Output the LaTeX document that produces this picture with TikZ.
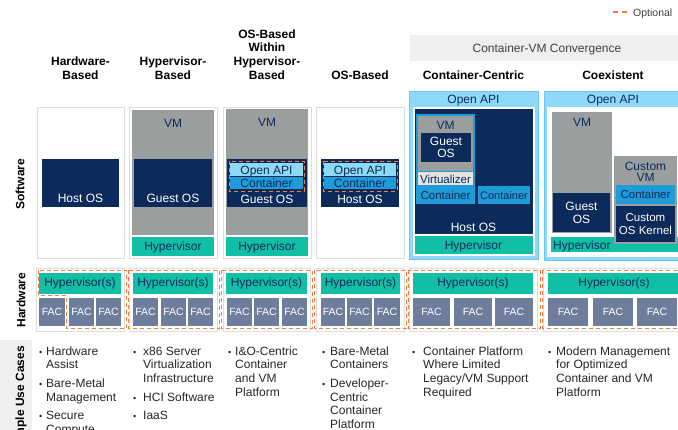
\documentclass[tikz,border=0pt]{standalone}
\usepackage{fontspec}
\setmainfont{Liberation Sans}
\usepackage{xcolor}
\usepackage{tikz}
\usetikzlibrary{positioning}

\definecolor{navy}{HTML}{0C2B5A}
\definecolor{vmgray}{HTML}{9A9E9F}
\definecolor{hvteal}{HTML}{12BFA6}
\definecolor{apiblue}{HTML}{8ED8F8}
\definecolor{ctrblue}{HTML}{1F9BD7}
\definecolor{facgray}{HTML}{6F7D9C}
\definecolor{bordergray}{HTML}{DDDDDD}
\definecolor{bandgray}{HTML}{EFEFEF}
\definecolor{virtgray}{HTML}{E4E4E4}
\definecolor{optorange}{HTML}{FF7A3D}

\newcommand{\bul}{{\fontsize{9}{9}\selectfont\textbullet}}

\begin{document}
\begin{tikzpicture}[
    x=1pt, y=-1pt,
    txt/.style={inner sep=0pt, text height=9pt, text depth=1pt, text=navy, font=\fontsize{12}{13.7}\selectfont},
    wtxt/.style={txt, text=white},
    stack/.style={inner sep=0pt, align=center, text=navy, font=\fontsize{12}{11.5}\selectfont},
    hdr/.style={inner sep=0pt, align=center, anchor=south, font=\bfseries\fontsize{12}{13.7}\selectfont},
    side/.style={inner sep=0pt, rotate=90, font=\bfseries\fontsize{12}{14}\selectfont},
    colbox/.style={draw=bordergray, fill=white, line width=1pt},
    apibox/.style={fill=apiblue, draw=apiblue!70!ctrblue, line width=1pt},
    hyps/.style={fill=hvteal, minimum height=21pt, inner sep=0pt, text=navy, font=\fontsize{12}{13.7}\selectfont},
    fac/.style={fill=facgray, minimum height=28pt, inner sep=0pt, text=white, font=\fontsize{10.5}{12}\selectfont},
    opt/.style={draw=optorange, line width=1pt, dash pattern=on 4pt off 3pt},
    uses/.style={inner sep=0pt, anchor=base west, text=black!85, font=\fontsize{12}{13.7}\selectfont}
]
    \useasboundingbox (0,0) rectangle (678,429);

    % Legend
    \draw[opt, line width=1.3pt, dash pattern=on 5pt off 3.5pt] (613,12) -- (628,12);
    \node[txt, anchor=west, text=black!75, font=\fontsize{10.5}{12}\selectfont] (optional) at (633,12) {Optional};

    % Column headers
    \fill[bandgray] (410,35) rectangle (682,61);
    \node[txt, text=black!75] (convergence) at (547,48.5) {Container-VM Convergence};
    \node[hdr] (hwbased) at (80.5,79.5) {Hardware-\\Based};
    \node[hdr] (hvbased) at (173,79.5) {Hypervisor-\\Based};
    \node[hdr] (oswithin) at (267,79.5) {OS-Based\\Within\\Hypervisor-\\Based};
    \node[hdr] (osbased) at (360,79.5) {OS-Based};
    \node[hdr] (ccentric) at (473.5,79.5) {Container-Centric};
    \node[hdr] (coexist) at (613,79.5) {Coexistent};

    % Row labels
    \node[side] (software) at (20,184) {Software};
    \node[side] (hardware) at (21,300) {Hardware};
    \fill[black!6] (0,340) rectangle (32,432);
    \node[side, anchor=east] (usecases) at (21,346) {Example Use Cases};

    % Software: hardware-based
    \draw[colbox] (37,107) rectangle (124,258);
    \fill[navy] (42,159) rectangle (119,207);
    \node[wtxt] (hostos1) at (80.5,198) {Host OS};

    % Software: hypervisor-based
    \draw[colbox] (129,107) rectangle (217,258);
    \fill[vmgray] (132,110) rectangle (214,235);
    \node[txt] (vm2) at (173,123) {VM};
    \fill[navy] (134,159) rectangle (212,207);
    \node[wtxt] (guestos2) at (173,198) {Guest OS};
    \fill[hvteal] (132,237) rectangle (214,256);
    \node[txt] (hyp2) at (173,246.5) {Hypervisor};

    % Software: OS-based within hypervisor-based
    \draw[colbox] (223,107) rectangle (311,258);
    \fill[vmgray] (226,109) rectangle (308,235);
    \node[txt] (vm3) at (267,122) {VM};
    \fill[navy] (227,159) rectangle (307,207);
    \fill[apiblue] (230,163) rectangle (303,176);
    \fill[ctrblue] (230,177) rectangle (303,189);
    \draw[opt] (229,161) rectangle (304,191);
    \node[txt] (api3) at (266.5,170) {Open API};
    \node[txt] (ctr3) at (266.5,183) {Container};
    \node[wtxt] (guestos3) at (267,199) {Guest OS};
    \fill[hvteal] (226,237) rectangle (308,256);
    \node[txt] (hyp3) at (267,246.5) {Hypervisor};

    % Software: OS-based
    \draw[colbox] (316,107) rectangle (404,258);
    \fill[navy] (321,159) rectangle (399,207);
    \fill[apiblue] (324,163) rectangle (396,176);
    \fill[ctrblue] (324,177) rectangle (396,189);
    \draw[opt] (323,161) rectangle (397,191);
    \node[txt] (api4) at (360,170) {Open API};
    \node[txt] (ctr4) at (360,183) {Container};
    \node[wtxt] (hostos4) at (360,199) {Host OS};

    % Software: container-centric
    \draw[apibox] (409,91) rectangle (538,259);
    \node[txt] (api5) at (473.5,99) {Open API};
    \fill[white] (413,107) rectangle (535,256);
    \fill[navy] (415,109) rectangle (533,234);
    \fill[ctrblue] (416,114) rectangle (475,204);
    \fill[vmgray] (418,116) rectangle (473,171);
    \node[txt] (vm5) at (445.5,125) {VM};
    \fill[navy] (421,133) rectangle (471,162);
    \node[stack, text=white] (guestos5) at (446,147.5) {Guest\\OS};
    \fill[virtgray] (418,172) rectangle (473,185);
    \node[txt, font=\fontsize{11.5}{13}\selectfont] (virt5) at (445.5,179) {Virtualizer};
    \node[txt, font=\fontsize{11.5}{13}\selectfont] (ctr5a) at (445.5,195) {Container};
    \fill[ctrblue] (478,186) rectangle (530,204);
    \node[txt, font=\fontsize{11}{13}\selectfont] (ctr5b) at (504,195) {Container};
    \node[wtxt] (hostos5) at (473.5,227) {Host OS};
    \fill[hvteal] (415,236) rectangle (533,254);
    \node[txt] (hyp5) at (473.5,245) {Hypervisor};

    % Software: coexistent
    \draw[apibox] (544,91) rectangle (684,260);
    \node[txt] (api6) at (613,99) {Open API};
    \fill[white] (547,107) rectangle (684,257);
    \fill[vmgray] (552,112) rectangle (612,233);
    \node[txt] (vm6) at (582,122) {VM};
    \fill[navy] (553,193) rectangle (610,232);
    \node[stack, text=white, font=\fontsize{12}{13.7}\selectfont] (guestos6) at (581.5,213) {Guest\\OS};
    \fill[hvteal] (551,237) rectangle (684,252);
    \node[txt, anchor=west] (hyp6) at (553,245) {Hypervisor};
    \fill[vmgray] (614,156) rectangle (677,244);
    \node[stack] (customvm6) at (645.5,172) {Custom\\VM};
    \fill[ctrblue] (616,185) rectangle (675,204);
    \node[txt, font=\fontsize{11.5}{13}\selectfont] (ctr6) at (645.5,194.5) {Container};
    \fill[navy] (616,206) rectangle (675,242);
    \node[stack, text=white, font=\fontsize{11.5}{12.5}\selectfont] (kernel6) at (645.5,224) {Custom\\OS Kernel};

    % Hardware boxes
    \draw[colbox] (36,268) rectangle (124,331);
    \draw[colbox] (129,268) rectangle (217,331);
    \draw[colbox] (223,268) rectangle (310,331);
    \draw[colbox] (316,268) rectangle (404,331);
    \draw[colbox] (409,268) rectangle (537,331);
    \draw[colbox] (543,268) rectangle (684,331);

    % Hypervisor(s)
    \node[hyps, minimum width=82pt] (hyps1) at (80,283.5) {Hypervisor(s)};
    \node[hyps, minimum width=80pt] (hyps2) at (173,283.5) {Hypervisor(s)};
    \node[hyps, minimum width=81pt] (hyps3) at (266.5,283.5) {Hypervisor(s)};
    \node[hyps, minimum width=79pt] (hyps4) at (360.5,283.5) {Hypervisor(s)};
    \node[hyps, minimum width=120pt] (hyps5) at (473,283.5) {Hypervisor(s)};
    \node[hyps, minimum width=132pt] (hyps6) at (614,283.5) {Hypervisor(s)};

    % FACs
    \node[fac, minimum width=26pt] (fac11) at (52,312) {FAC};
    \node[fac, minimum width=25pt] (fac12) at (81.5,312) {FAC};
    \node[fac, minimum width=25pt] (fac13) at (108.5,312) {FAC};
    \node[fac, minimum width=25pt] (fac21) at (145.5,312) {FAC};
    \node[fac, minimum width=25pt] (fac22) at (173.5,312) {FAC};
    \node[fac, minimum width=25pt] (fac23) at (200.5,312) {FAC};
    \node[fac, minimum width=25pt] (fac31) at (239.5,312) {FAC};
    \node[fac, minimum width=25pt] (fac32) at (266.5,312) {FAC};
    \node[fac, minimum width=25pt] (fac33) at (294.5,312) {FAC};
    \node[fac, minimum width=24pt] (fac41) at (333,312) {FAC};
    \node[fac, minimum width=25pt] (fac42) at (359.5,312) {FAC};
    \node[fac, minimum width=26pt] (fac43) at (387,312) {FAC};
    \node[fac, minimum width=37pt] (fac51) at (431.5,312) {FAC};
    \node[fac, minimum width=38pt] (fac52) at (473,312) {FAC};
    \node[fac, minimum width=38pt] (fac53) at (514,312) {FAC};
    \node[fac, minimum width=40pt] (fac61) at (568,312) {FAC};
    \node[fac, minimum width=40pt] (fac62) at (613,312) {FAC};
    \node[fac, minimum width=40pt] (fac63) at (657,312) {FAC};

    % Optional outlines
    \draw[opt] (38,270) -- (38,295) -- (66,295) -- (66,328.5) -- (126,328.5) -- (126,270) -- cycle;
    \draw[opt] (128,270) rectangle (219,328.5);
    \draw[opt] (221,270) rectangle (312,328.5);
    \draw[opt] (314,270) rectangle (406,328.5);
    \draw[opt] (408,270) rectangle (540,328.5);
    \draw[opt] (542,270) rectangle (684,328.5);

    % Use cases
    \node[uses] (use1) at (39,355) {\begin{tabular}[t]{@{}p{7pt}@{}l@{}}
        \bul & Hardware\\ & Assist\\[5pt]
        \bul & Bare-Metal\\ & Management\\[5pt]
        \bul & Secure\\ & Compute\end{tabular}};
    \node[uses] (use2) at (133,355) {\begin{tabular}[t]{@{}p{10pt}@{}l@{}}
        \bul & x86 Server\\ & Virtualization\\ & Infrastructure\\[5pt]
        \bul & HCI Software\\[5pt]
        \bul & IaaS\end{tabular}};
    \node[uses] (use3) at (228,355) {\begin{tabular}[t]{@{}p{7pt}@{}l@{}}
        \bul & I\&O-Centric\\ & Container\\ & and VM\\ & Platform\end{tabular}};
    \node[uses] (use4) at (322,355) {\begin{tabular}[t]{@{}p{8pt}@{}l@{}}
        \bul & Bare-Metal\\ & Containers\\[5pt]
        \bul & Developer-\\ & Centric\\ & Container\\ & Platform\end{tabular}};
    \node[uses] (use5) at (412,355) {\begin{tabular}[t]{@{}p{11pt}@{}l@{}}
        \bul & Container Platform\\ & Where Limited\\ & Legacy/VM Support\\ & Required\end{tabular}};
    \node[uses] (use6) at (548,355) {\begin{tabular}[t]{@{}p{8pt}@{}l@{}}
        \bul & Modern Management\\ & for Optimized\\ & Container and VM\\ & Platform\end{tabular}};
\end{tikzpicture}
\end{document}
